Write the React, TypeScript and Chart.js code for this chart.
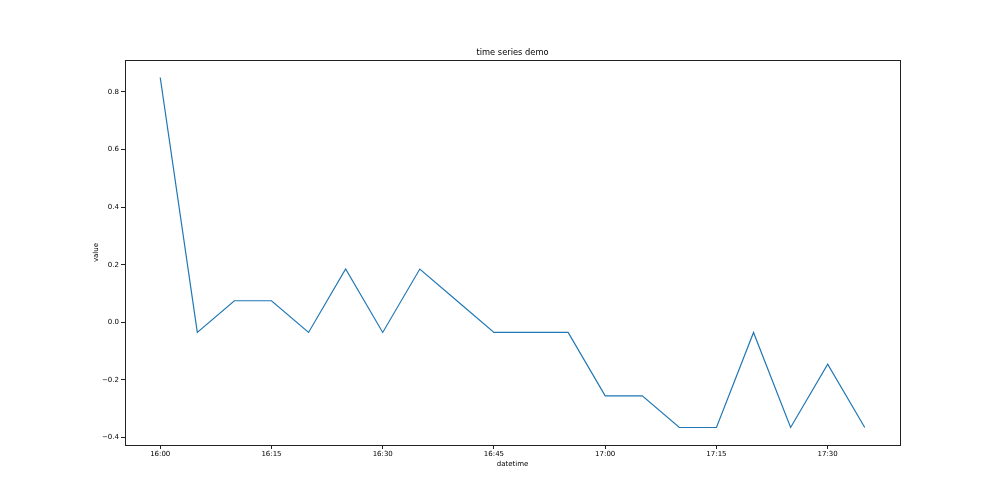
import React, { useEffect, useRef } from "react";
import { Chart, registerables } from "chart.js";

Chart.register(...registerables);

// minutes after 16:00
const minutes = [0, 5, 10, 15, 20, 25, 30, 35, 40, 45, 50, 55, 60, 65, 70, 75, 80, 85, 90, 95];
const values = [
  0.85, -0.035, 0.075, 0.075, -0.035, 0.185, -0.035, 0.185, 0.075, -0.035,
  -0.035, -0.035, -0.255, -0.255, -0.365, -0.365, -0.035, -0.365, -0.145, -0.365,
];
const xTickMinutes = [0, 15, 30, 45, 60, 75, 90];
const yTickValues = [-0.4, -0.2, 0.0, 0.2, 0.4, 0.6, 0.8];
const titleText = "time series demo";
const xLabel = "datetime";
const yLabel = "value";

const fmtTime = (m: number) => {
  const total = 16 * 60 + m;
  const h = Math.floor(total / 60);
  const mm = Math.round(total % 60);
  return `${h}:${mm.toString().padStart(2, "0")}`;
};

const FONT = "'DejaVu Sans', sans-serif";

const framePlugin = {
  id: "frame",
  afterDatasetsDraw(chart: any) {
    const { ctx, chartArea } = chart;
    ctx.save();
    ctx.strokeStyle = "#222";
    ctx.lineWidth = 1;
    ctx.strokeRect(
      Math.round(chartArea.left) + 0.5,
      Math.round(chartArea.top) + 0.5,
      Math.round(chartArea.right - chartArea.left),
      Math.round(chartArea.bottom - chartArea.top)
    );
    ctx.fillStyle = "#000";
    ctx.font = `8.3px ${FONT}`;
    ctx.textAlign = "center";
    ctx.textBaseline = "middle";
    ctx.fillText(titleText, (chartArea.left + chartArea.right) / 2, 53);
    ctx.restore();
  },
};

export default function App() {
  const ref = useRef<HTMLCanvasElement | null>(null);
  useEffect(() => {
    if (!ref.current) return;
    const chart = new Chart(ref.current, {
      type: "line",
      data: {
        datasets: [
          {
            data: minutes.map((m, i) => ({ x: m, y: values[i] })),
            borderColor: "#1f77b4",
            borderWidth: 1.2,
            pointRadius: 0,
            tension: 0,
            fill: false,
          },
        ],
      },
      plugins: [framePlugin],
      options: {
        animation: false,
        responsive: false,
        maintainAspectRatio: false,
        layout: { padding: { top: 60, right: 100, left: 0, bottom: 0 } },
        plugins: {
          legend: { display: false },
          tooltip: { enabled: false },
          title: { display: false },
        },
        scales: {
          x: {
            type: "linear",
            min: -4.75,
            max: 99.75,
            afterFit: (s: any) => {
              s.height = 55;
            },
            afterBuildTicks: (s: any) => {
              s.ticks = xTickMinutes.map((v) => ({ value: v }));
            },
            border: { display: true, color: "#222" },
            grid: {
              display: true,
              drawOnChartArea: false,
              drawTicks: true,
              tickLength: 4,
              color: "#222",
            },
            ticks: {
              color: "#000",
              font: { family: FONT, size: 7 },
              padding: 1,
              maxRotation: 0,
              autoSkip: false,
              callback: (v: any) => fmtTime(Number(v)),
            },
            title: {
              display: true,
              text: xLabel,
              color: "#000",
              font: { family: FONT, size: 7 },
              padding: { top: 2, bottom: 32 },
            },
          },
          y: {
            type: "linear",
            min: -0.4258,
            max: 0.9108,
            afterFit: (s: any) => {
              s.width = 125;
            },
            afterBuildTicks: (s: any) => {
              s.ticks = yTickValues.map((v) => ({ value: v }));
            },
            border: { display: true, color: "#222" },
            grid: {
              display: true,
              drawOnChartArea: false,
              drawTicks: true,
              tickLength: 4,
              color: "#222",
            },
            ticks: {
              color: "#000",
              font: { family: FONT, size: 7 },
              padding: 2,
              autoSkip: false,
              callback: (v: any) => {
                const n = Number(v);
                return (n < 0 ? "\u2212" : "") + Math.abs(n).toFixed(1);
              },
            },
            title: {
              display: true,
              text: yLabel,
              color: "#000",
              font: { family: FONT, size: 7 },
              padding: { top: 92, bottom: 4 },
            },
          },
        },
      },
    });
    return () => chart.destroy();
  }, []);
  return (
    <div style={{ position: "fixed", left: 0, top: 0, width: 1000, height: 500, background: "#fff" }}>
      <canvas ref={ref} width={1000} height={500} style={{ width: 1000, height: 500 }} />
    </div>
  );
}
